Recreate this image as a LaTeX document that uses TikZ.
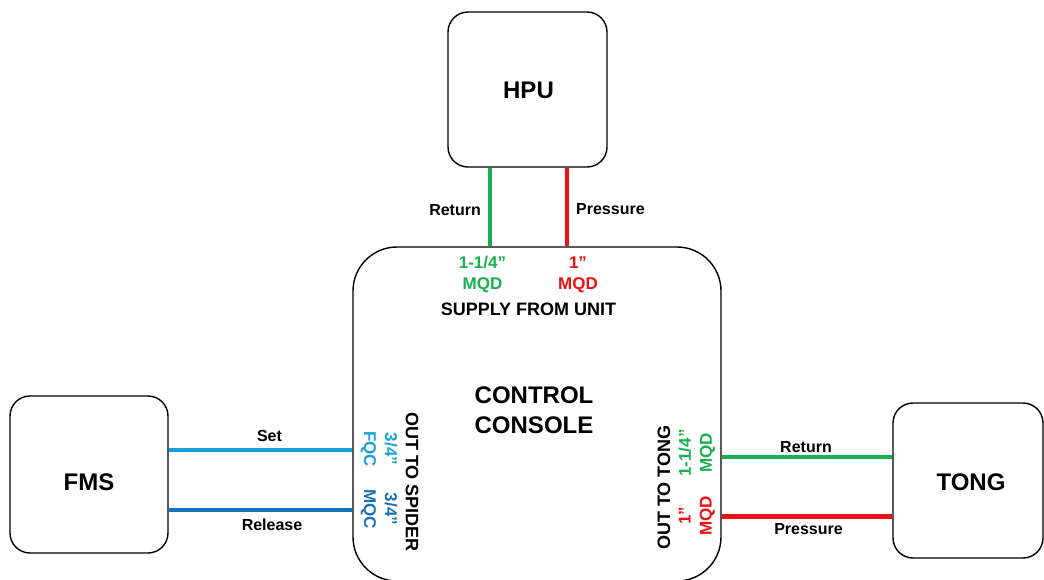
\documentclass[tikz,border=0pt]{standalone}
\usepackage{fontspec}
\setmainfont{Liberation Sans}
\usetikzlibrary{calc}
\definecolor{pipegreen}{HTML}{19B050}
\definecolor{pipered}{HTML}{EE1111}
\definecolor{pipecyan}{HTML}{1E9FDB}
\definecolor{pipeblue}{HTML}{1B72BA}
\tikzset{
  unitbox/.style={draw=black, line width=1.4pt, rounded corners=20pt, inner sep=0pt},
  consolebox/.style={draw=black, line width=1.4pt, rounded corners=44pt, inner sep=0pt},
  bigtext/.style={font=\fontsize{24}{30}\selectfont\bfseries, align=center, inner sep=0pt},
  hosetext/.style={font=\fontsize{16}{19}\selectfont\bfseries, inner sep=0pt},
  porttext/.style={font=\fontsize{17}{21}\selectfont\bfseries, align=center, inner sep=0pt},
  sidetext/.style={font=\fontsize{18}{22}\selectfont\bfseries, inner sep=0pt},
  hose/.style={line width=4.5pt},
}
\begin{document}
\begin{tikzpicture}[x=1pt, y=-1pt]
\useasboundingbox (0,0) rectangle (1044,579);

% equipment boxes
\node[unitbox, minimum width=159pt, minimum height=155pt] (hpu) at (527.5,89.5) {};
\node[consolebox, minimum width=368pt, minimum height=334pt] (console) at (537,414) {};
\node[unitbox, minimum width=158pt, minimum height=157pt] (fms) at (89,474.5) {};
\node[unitbox, minimum width=150pt, minimum height=155pt] (tong) at (968,480.5) {};

% box titles
\node[bigtext] (hputxt) at (528.5,90.5) {HPU};
\node[bigtext] (fmstxt) at (89,482) {FMS};
\node[bigtext] (tongtxt) at (971,482) {TONG};
\node[bigtext] (ctltxt) at (534,410) {CONTROL\\CONSOLE};

% supply hoses from the HPU
\draw[hose, pipegreen] (hpu.south -| 490,0) -- (console.north -| 490,0);
\draw[hose, pipered] (hpu.south -| 567,0) -- (console.north -| 567,0);
\node[hosetext, anchor=base east] (hpuret) at (481,215) {Return};
\node[hosetext, anchor=base west] (hpupre) at (576,214) {Pressure};

% spider hoses to the FMS
\draw[hose, pipecyan] (fms.east |- 0,450) -- (console.west |- 0,450);
\draw[hose, pipeblue] (fms.east |- 0,510) -- (console.west |- 0,510);
\node[hosetext, anchor=base] (settxt) at (269.5,441) {Set};
\node[hosetext, anchor=base] (reltxt) at (272,530) {Release};

% tong hoses
\draw[hose, pipegreen] (console.east |- 0,457) -- (tong.west |- 0,457);
\draw[hose, pipered] (console.east |- 0,516.5) -- (tong.west |- 0,516.5);
\node[hosetext, anchor=base] (tongret) at (806,452) {Return};
\node[hosetext, anchor=base] (tongpre) at (808.5,534) {Pressure};

% console port markings: supply side
\node[porttext, text=pipegreen] (p1) at (482.5,274.5) {1-1/4”\\MQD};
\node[porttext, text=pipered] (p2) at (578,274.5) {1”\\MQD};
\node[sidetext] (supply) at (528.5,309.5) {SUPPLY FROM UNIT};

% console port markings: spider side
\node[sidetext, rotate=-90] (spider) at (412,482) {OUT TO SPIDER};
\node[porttext, rotate=-90, text=pipecyan] (p3) at (379,449) {3/4”\\FQC};
\node[porttext, rotate=-90, text=pipeblue] (p4) at (379,509) {3/4”\\MQC};

% console port markings: tong side
\node[sidetext, rotate=90] (tongside) at (664,487.5) {OUT TO TONG};
\node[porttext, rotate=90, text=pipegreen] (p5) at (697,453) {1-1/4”\\MQD};
\node[porttext, rotate=90, text=pipered] (p6) at (697,516) {1”\\MQD};
\end{tikzpicture}
\end{document}
